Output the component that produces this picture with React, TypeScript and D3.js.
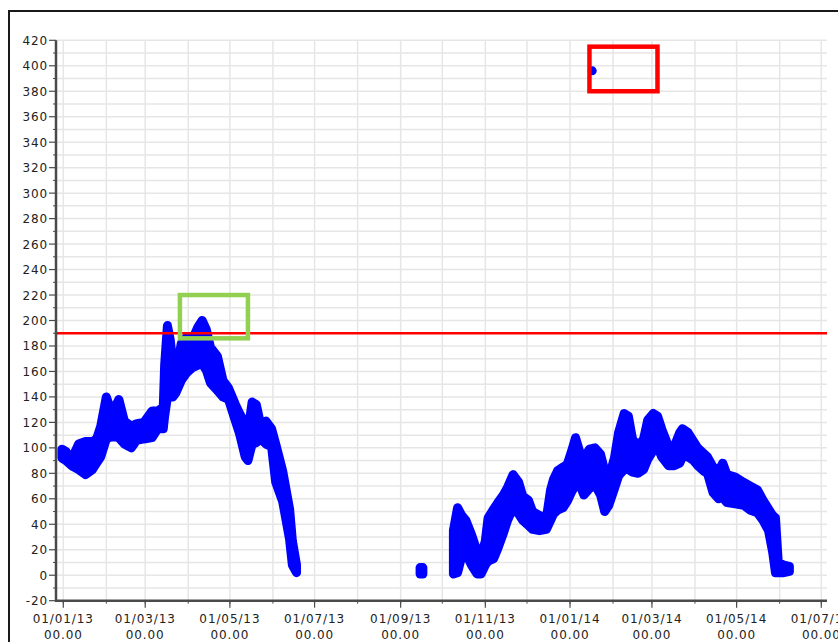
import React, { useEffect, useRef } from 'react';
import * as d3 from 'd3';

// sampled days: [date, low, high] (spread of the readings on that day)
const springSeries: [string, number, number][] = [
  ['2012-12-31', 92, 99], ['2013-01-03', 90, 97], ['2013-01-07', 86, 91],
  ['2013-01-12', 83, 103], ['2013-01-17', 79, 105], ['2013-01-22', 83, 105],
  ['2013-01-25', 88, 107], ['2013-01-28', 93, 117], ['2013-02-01', 107, 140],
  ['2013-02-05', 109, 127], ['2013-02-10', 108, 138], ['2013-02-14', 103, 121],
  ['2013-02-19', 100, 117], ['2013-02-23', 106, 119], ['2013-02-28', 107, 120],
  ['2013-03-06', 108, 129], ['2013-03-10', 115, 129], ['2013-03-14', 115, 132],
  ['2013-03-15', 125, 165], ['2013-03-17', 140, 196], ['2013-03-19', 140, 185],
  ['2013-03-21', 140, 165], ['2013-03-23', 143, 158], ['2013-03-27', 153, 182],
  ['2013-03-31', 159, 187], ['2013-04-04', 163, 185], ['2013-04-08', 165, 195],
  ['2013-04-11', 166, 200], ['2013-04-14', 161, 193], ['2013-04-17', 151, 179],
  ['2013-04-22', 145, 172], ['2013-04-26', 140, 153], ['2013-04-30', 138, 147],
  ['2013-05-05', 121, 134], ['2013-05-08', 111, 127], ['2013-05-12', 93, 119],
  ['2013-05-14', 90, 112], ['2013-05-17', 103, 136], ['2013-05-20', 104, 134],
  ['2013-05-23', 107, 119], ['2013-05-27', 103, 121], ['2013-05-31', 101, 115],
  ['2013-06-03', 73, 103], ['2013-06-08', 58, 82], ['2013-06-13', 28, 52],
  ['2013-06-15', 8, 27], ['2013-06-18', 2, 8],
];

const septemberSeries: [string, number, number][] = [
  ['2013-09-15', 1, 6], ['2013-09-17', 1, 6],
];

const winterSeries: [string, number, number][] = [
  ['2013-10-09', 1, 35], ['2013-10-12', 2, 53], ['2013-10-15', 15, 47],
  ['2013-10-18', 17, 43], ['2013-10-22', 8, 32], ['2013-10-26', 1, 19],
  ['2013-10-29', 1, 15], ['2013-11-01', 8, 27], ['2013-11-03', 11, 45],
  ['2013-11-07', 13, 52], ['2013-11-10', 21, 57], ['2013-11-14', 33, 63],
  ['2013-11-17', 43, 69], ['2013-11-21', 53, 79], ['2013-11-25', 48, 73],
  ['2013-11-28', 43, 62], ['2013-12-02', 39, 59], ['2013-12-05', 36, 50],
  ['2013-12-10', 35, 47], ['2013-12-15', 36, 45], ['2013-12-18', 43, 67],
  ['2013-12-20', 48, 75], ['2013-12-23', 51, 82], ['2013-12-27', 53, 85],
  ['2013-12-30', 58, 87], ['2014-01-02', 65, 97], ['2014-01-05', 71, 108],
  ['2014-01-08', 71, 97], ['2014-01-11', 63, 92], ['2014-01-15', 68, 99],
  ['2014-01-19', 71, 100], ['2014-01-23', 63, 95], ['2014-01-26', 50, 82],
  ['2014-01-29', 55, 77], ['2014-02-02', 68, 92], ['2014-02-05', 78, 112],
  ['2014-02-09', 83, 127], ['2014-02-12', 83, 125], ['2014-02-15', 81, 107],
  ['2014-02-19', 80, 101], ['2014-02-23', 83, 107], ['2014-02-26', 91, 122],
  ['2014-03-02', 98, 127], ['2014-03-05', 101, 125], ['2014-03-08', 93, 115],
  ['2014-03-13', 86, 101], ['2014-03-17', 86, 101], ['2014-03-21', 88, 112],
  ['2014-03-23', 93, 115], ['2014-03-27', 93, 112], ['2014-03-31', 90, 105],
  ['2014-04-03', 86, 100], ['2014-04-07', 82, 96], ['2014-04-10', 80, 93],
  ['2014-04-14', 65, 85], ['2014-04-18', 60, 82], ['2014-04-21', 61, 88],
  ['2014-04-24', 57, 79], ['2014-04-30', 56, 77], ['2014-05-06', 55, 73],
  ['2014-05-11', 51, 70], ['2014-05-16', 49, 67], ['2014-05-20', 43, 59],
  ['2014-05-24', 35, 52], ['2014-05-27', 18, 47], ['2014-05-29', 2, 45],
  ['2014-05-31', 2, 10], ['2014-06-04', 2, 8], ['2014-06-08', 3, 7],
];

const outlierPoint: [string, number] = ['2014-01-17', 396];
const thresholdValue = 190;

// highlight boxes: [from, to, low, high]
const greenBox: [string, string, number, number] = ['2013-03-26', '2013-05-14', 186, 220];
const redBox: [string, string, number, number] = ['2014-01-15', '2014-03-05', 380, 415];

const xTickDates = [
  '2013-01-01', '2013-03-01', '2013-05-01', '2013-07-01', '2013-09-01',
  '2013-11-01', '2014-01-01', '2014-03-01', '2014-05-01', '2014-07-01',
];
const xTickTime = '00.00';
const yTicks = [-20, 0, 20, 40, 60, 80, 100, 120, 140, 160, 180, 200, 220, 240,
  260, 280, 300, 320, 340, 360, 380, 400, 420];

function App() {
  const ref = useRef<SVGSVGElement>(null);

  useEffect(() => {
    drawChart();
  }, []);

  const drawChart = () => {
    const width = 838;
    const height = 642;
    const plot = { left: 56, right: 827, top: 40.3, bottom: 600.7 };
    const parse = d3.utcParse('%Y-%m-%d');
    const fmt = d3.utcFormat('%d/%m/%y');

    const svg = d3.select(ref.current);
    svg.selectAll('*').remove();

    const x = d3.scaleUtc()
      .domain([parse('2013-01-01')!, parse('2014-07-01')!])
      .range([63.3, 821.3]);
    const y = d3.scaleLinear()
      .domain([-20, 420])
      .range([plot.bottom, plot.top]);

    // outer frame
    svg.append('rect')
      .attr('x', 9).attr('y', 11)
      .attr('width', width).attr('height', height)
      .attr('fill', 'white')
      .attr('stroke', '#1a1a1a').attr('stroke-width', 2);

    // grid: every month and every 10 units
    const months = d3.utcMonth.range(parse('2013-01-01')!, parse('2014-07-02')!);
    const grid = svg.append('g').attr('stroke', '#e6e6e6').attr('stroke-width', 1.5);
    grid.selectAll('line.v').data(months).join('line')
      .attr('x1', d => x(d)).attr('x2', d => x(d))
      .attr('y1', plot.top).attr('y2', plot.bottom);
    grid.selectAll('line.h').data(d3.range(-10, 421, 10)).join('line')
      .attr('x1', plot.left).attr('x2', plot.right)
      .attr('y1', d => y(d)).attr('y2', d => y(d));

    // readings
    const area = d3.area<[string, number, number]>()
      .x(d => x(parse(d[0])!))
      .y0(d => y(d[1]))
      .y1(d => y(d[2]));
    [springSeries, septemberSeries, winterSeries].forEach(series => {
      svg.append('path')
        .datum(series)
        .attr('d', area)
        .attr('fill', '#0000ff')
        .attr('stroke', '#0000ff')
        .attr('stroke-width', 9)
        .attr('stroke-linejoin', 'round')
        .attr('stroke-linecap', 'round');
    });
    svg.append('circle')
      .attr('cx', x(parse(outlierPoint[0])!))
      .attr('cy', y(outlierPoint[1]))
      .attr('r', 4.5)
      .attr('fill', '#0000ff');

    // threshold
    svg.append('line')
      .attr('x1', plot.left).attr('x2', plot.right)
      .attr('y1', y(thresholdValue)).attr('y2', y(thresholdValue))
      .attr('stroke', '#ff0000').attr('stroke-width', 2.5);

    // axes
    const axis = svg.append('g').attr('stroke', '#4a4a4a');
    axis.append('line')
      .attr('x1', plot.left).attr('x2', plot.left)
      .attr('y1', plot.top).attr('y2', plot.bottom + 1)
      .attr('stroke-width', 2.5);
    axis.append('line')
      .attr('x1', plot.left - 1).attr('x2', plot.right)
      .attr('y1', plot.bottom).attr('y2', plot.bottom)
      .attr('stroke-width', 2.5);
    axis.selectAll('line.ym').data(d3.range(-10, 421, 20)).join('line')
      .attr('x1', plot.left - 3).attr('x2', plot.left)
      .attr('y1', d => y(d)).attr('y2', d => y(d)).attr('stroke-width', 1);
    axis.selectAll('line.yt').data(yTicks).join('line')
      .attr('x1', plot.left - 7).attr('x2', plot.left)
      .attr('y1', d => y(d)).attr('y2', d => y(d)).attr('stroke-width', 1.2);
    axis.selectAll('line.xm').data(months).join('line')
      .attr('x1', d => x(d)).attr('x2', d => x(d))
      .attr('y1', plot.bottom).attr('y2', plot.bottom + 3).attr('stroke-width', 1);
    axis.selectAll('line.xt').data(xTickDates).join('line')
      .attr('x1', d => x(parse(d)!)).attr('x2', d => x(parse(d)!))
      .attr('y1', plot.bottom).attr('y2', plot.bottom + 7).attr('stroke-width', 1.2);

    const labels = svg.append('g')
      .attr('font-family', '"DejaVu Sans", Verdana, sans-serif')
      .attr('font-size', 12)
      .attr('letter-spacing', 0.9)
      .attr('fill', '#222');
    labels.selectAll('text.y').data(yTicks).join('text')
      .attr('x', plot.left - 8)
      .attr('y', d => y(d) + 4.5)
      .attr('text-anchor', 'end')
      .text(d => d);
    const xl = labels.selectAll('g.x').data(xTickDates).join('g')
      .attr('transform', d => `translate(${x(parse(d)!)},0)`);
    xl.append('text').attr('y', 623).attr('text-anchor', 'middle')
      .text(d => fmt(parse(d)!));
    xl.append('text').attr('y', 639).attr('text-anchor', 'middle')
      .text(xTickTime);

    // highlight boxes
    const box = (b: [string, string, number, number], color: string, w: number) => {
      const x0 = x(parse(b[0])!);
      const x1 = x(parse(b[1])!);
      svg.append('rect')
        .attr('x', x0).attr('y', y(b[3]))
        .attr('width', x1 - x0).attr('height', y(b[2]) - y(b[3]))
        .attr('fill', 'none')
        .attr('stroke', color).attr('stroke-width', w);
    };
    box(greenBox, '#92d050', 4.5);
    box(redBox, '#ff0000', 4.5);
  };

  return (
    <svg
      ref={ref}
      width={838}
      height={642}
      style={{ position: 'absolute', left: 0, top: 0, display: 'block' }}
    />
  );
}

export default App;
